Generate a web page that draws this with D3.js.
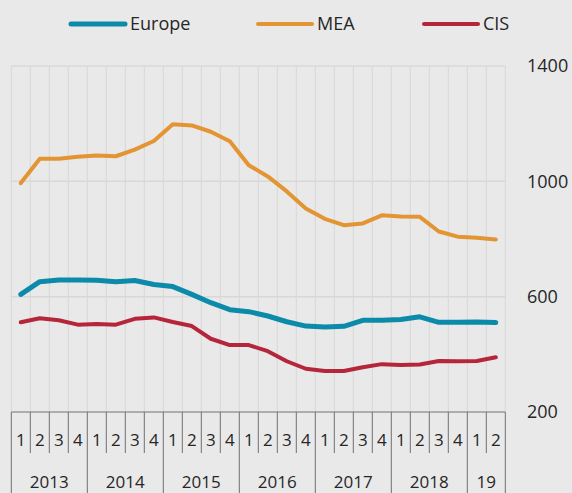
<!DOCTYPE html>
<html>
<head>
<meta charset="utf-8">
<script src="https://cdn.jsdelivr.net/npm/d3@7"></script>
<style>
  body { margin: 0; background: #e9e9e9; }
  text { font-family: "Open Sans", "Noto Sans", sans-serif; fill: #262626; }
</style>
</head>
<body>
<script>
// quarters 2013Q1 .. 2019Q2
var years = ["2013", "2014", "2015", "2016", "2017", "2018", "19"];
var quartersPerYear = [4, 4, 4, 4, 4, 4, 2];
var yTicks = [1400, 1000, 600, 200];

var europe = [608, 652, 658, 658, 657, 652, 656, 642, 635, 608, 579, 555, 548, 533, 513, 498, 495, 497, 518, 518, 521, 530, 511, 511, 512, 510];
var mea = [994, 1078, 1078, 1085, 1090, 1087, 1110, 1140, 1198, 1194, 1172, 1139, 1056, 1017, 965, 906, 870, 848, 854, 882, 878, 877, 826, 808, 804, 798];
var cis = [511, 525, 518, 503, 505, 503, 523, 528, 512, 498, 454, 432, 432, 411, 376, 350, 342, 342, 355, 366, 363, 365, 377, 376, 377, 390];

var series = [
  { name: "Europe", values: europe, color: "#0b8aaa", width: 5, lx: 71 },
  { name: "MEA", values: mea, color: "#e29532", width: 4, lx: 258 },
  { name: "CIS", values: cis, color: "#b5263a", width: 4, lx: 424 }
];

// build quarter list
var quarters = [];
years.forEach(function (y, i) {
  for (var q = 1; q <= quartersPerYear[i]; q++) quarters.push({ year: y, q: q, key: y + "Q" + q });
});

var plotLeft = 11.3, plotRight = 505.3, plotTop = 66, plotBottom = 412, H = 493;

var svg = d3.select("body").append("svg")
  .attr("width", 572)
  .attr("height", 493);

var x = d3.scaleBand()
  .domain(quarters.map(function (d) { return d.key; }))
  .range([plotLeft, plotRight]);

var y = d3.scaleLinear()
  .domain([200, 1400])
  .range([plotBottom, plotTop]);

// grid
var grid = svg.append("g").attr("stroke", "#d8d8d8").attr("stroke-width", 1);
quarters.forEach(function (d) {
  grid.append("line")
    .attr("x1", x(d.key)).attr("x2", x(d.key))
    .attr("y1", plotTop).attr("y2", plotBottom);
});
grid.append("line").attr("x1", plotRight).attr("x2", plotRight).attr("y1", plotTop).attr("y2", plotBottom);
yTicks.slice(0, 3).forEach(function (v) {
  grid.append("line")
    .attr("x1", plotLeft).attr("x2", plotRight)
    .attr("y1", y(v)).attr("y2", y(v))
    .attr("stroke-width", 1.5);
});

// right axis labels
svg.selectAll(".ylab")
  .data(yTicks)
  .enter()
  .append("text")
  .attr("x", 527)
  .attr("y", function (d) { return y(d); })
  .attr("dy", "0.35em")
  .attr("font-size", 18)
  .text(function (d) { return d; });

// category axis box
var ax = svg.append("g").attr("stroke", "#707070").attr("stroke-width", 1);
ax.append("line").attr("x1", plotLeft).attr("x2", plotRight).attr("y1", plotBottom).attr("y2", plotBottom);
quarters.forEach(function (d) {
  var full = d.q === 1;
  ax.append("line")
    .attr("x1", x(d.key)).attr("x2", x(d.key))
    .attr("y1", plotBottom).attr("y2", full ? H : 453);
});
ax.append("line").attr("x1", plotRight).attr("x2", plotRight).attr("y1", plotBottom).attr("y2", H);

svg.selectAll(".qlab")
  .data(quarters)
  .enter()
  .append("text")
  .attr("x", function (d) { return x(d.key) + x.bandwidth() / 2; })
  .attr("y", 440)
  .attr("dy", "0.35em")
  .attr("text-anchor", "middle")
  .attr("font-size", 17)
  .text(function (d) { return d.q; });

var yearStart = 0;
years.forEach(function (yr, i) {
  var x0 = x(quarters[yearStart].key);
  var x1 = x(quarters[yearStart + quartersPerYear[i] - 1].key) + x.bandwidth();
  svg.append("text")
    .attr("x", (x0 + x1) / 2)
    .attr("y", 482)
    .attr("dy", "0.35em")
    .attr("text-anchor", "middle")
    .attr("font-size", 17)
    .text(yr);
  yearStart += quartersPerYear[i];
});

// lines
var line = d3.line()
  .x(function (d, i) { return x(quarters[i].key) + x.bandwidth() / 2; })
  .y(function (d) { return y(d); });

series.forEach(function (s) {
  svg.append("path")
    .datum(s.values)
    .attr("d", line)
    .attr("fill", "none")
    .attr("stroke", s.color)
    .attr("stroke-width", s.width)
    .attr("stroke-linejoin", "round")
    .attr("stroke-linecap", "round");
});

// legend
series.forEach(function (s) {
  svg.append("line")
    .attr("x1", s.lx).attr("x2", s.lx + 54)
    .attr("y1", 24).attr("y2", 24)
    .attr("stroke", s.color)
    .attr("stroke-width", s.width)
    .attr("stroke-linecap", "round");
  svg.append("text")
    .attr("x", s.lx + 59)
    .attr("y", 24)
    .attr("dy", "0.35em")
    .attr("font-size", 18)
    .text(s.name);
});
</script>
</body>
</html>
